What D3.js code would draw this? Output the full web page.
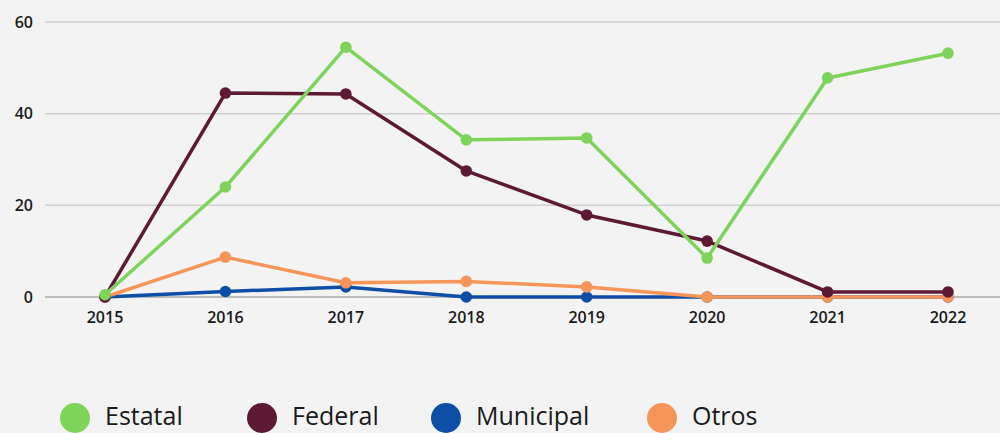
<!DOCTYPE html>
<html>
<head>
<meta charset="utf-8">
<script src="https://cdn.jsdelivr.net/npm/d3@7"></script>
<style>
  body { margin: 0; background: #f3f3f3; }
  svg { display: block; font-family: "Open Sans", "Noto Sans", sans-serif; }
</style>
</head>
<body>
<div id="chart"></div>
<script>
// data
const years = [2015, 2016, 2017, 2018, 2019, 2020, 2021, 2022];
const estatal = [0.5, 24, 54.5, 34.3, 34.7, 8.5, 47.8, 53.2];
const federal = [0, 44.5, 44.3, 27.5, 17.9, 12.2, 1.1, 1.1];
const municipal = [0, 1.2, 2.2, 0, 0, 0, 0, 0];
const otros = [0, 8.7, 3.1, 3.4, 2.2, 0, 0, 0];
const yTicks = [0, 20, 40, 60];

const series = [
  { name: "Estatal", values: estatal, color: "#7ed35a" },
  { name: "Federal", values: federal, color: "#5e1a35" },
  { name: "Municipal", values: municipal, color: "#0d4ea6" },
  { name: "Otros", values: otros, color: "#f5955a" }
];
// draw order: bottom lines first
const drawOrder = ["Municipal", "Otros", "Federal", "Estatal"];

const width = 1000, height = 433;
const margin = { top: 22, right: 0, bottom: 136, left: 45 };

const svg = d3.select("#chart").append("svg")
  .attr("width", width)
  .attr("height", height);

svg.append("rect").attr("width", width).attr("height", height).attr("fill", "#f3f3f3");

const x = d3.scalePoint()
  .domain(years)
  .range([105, 948]);

const y = d3.scaleLinear()
  .domain([0, 60])
  .range([height - margin.bottom, margin.top]);

// gridlines
svg.append("g")
  .selectAll("line")
  .data(yTicks)
  .enter().append("line")
  .attr("x1", margin.left)
  .attr("x2", width)
  .attr("y1", d => y(d))
  .attr("y2", d => y(d))
  .attr("stroke", d => d === 0 ? "#a8a8a8" : "#cfcfcf")
  .attr("stroke-width", 1.5);

// y labels
svg.append("g")
  .selectAll("text")
  .data(yTicks)
  .enter().append("text")
  .attr("x", 33)
  .attr("y", d => y(d))
  .attr("dy", "0.35em")
  .attr("text-anchor", "end")
  .attr("fill", "#1a1a1a")
  .attr("font-size", "16px")
  .attr("font-weight", 600)
  .text(d => d);

// x labels
svg.append("g")
  .selectAll("text")
  .data(years)
  .enter().append("text")
  .attr("x", d => x(d))
  .attr("y", 323)
  .attr("text-anchor", "middle")
  .attr("fill", "#1a1a1a")
  .attr("font-size", "16px")
  .attr("font-weight", 600)
  .text(d => d);

const line = d3.line()
  .x((d, i) => x(years[i]))
  .y(d => y(d));

drawOrder.forEach(name => {
  const s = series.find(d => d.name === name);
  const g = svg.append("g");
  g.append("path")
    .datum(s.values)
    .attr("d", line)
    .attr("fill", "none")
    .attr("stroke", s.color)
    .attr("stroke-width", 3.5)
    .attr("stroke-linejoin", "round");
  g.selectAll("circle")
    .data(s.values)
    .enter().append("circle")
    .attr("cx", (d, i) => x(years[i]))
    .attr("cy", d => y(d))
    .attr("r", 5.8)
    .attr("fill", s.color);
});

// legend
const legendX = [75, 262, 446, 662];
const legend = svg.append("g");
series.forEach((s, i) => {
  legend.append("ellipse")
    .attr("cx", legendX[i])
    .attr("cy", 418)
    .attr("rx", 15)
    .attr("ry", 15)
    .attr("fill", s.color);
  legend.append("text")
    .attr("x", legendX[i] + 30)
    .attr("y", 425)
    .attr("fill", "#1a1a1a")
    .attr("font-size", "25px")
    .attr("font-weight", 500)
    .text(s.name);
});
</script>
</body>
</html>
